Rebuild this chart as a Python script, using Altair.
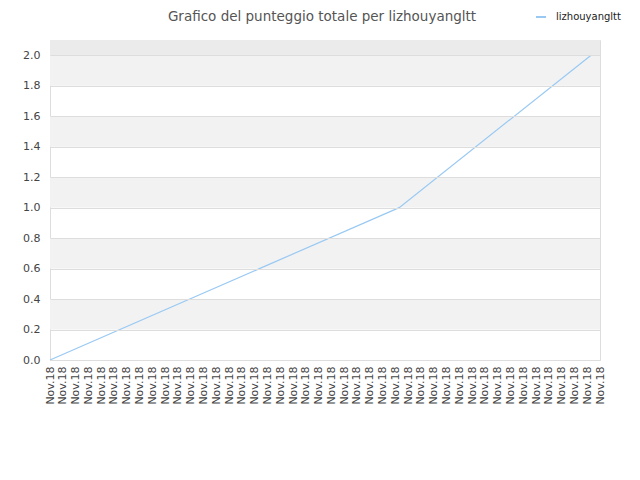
import altair as alt
import pandas as pd

# data
x_pos = [0, 27.3, 42.3]
scores = [0.0, 1.0, 2.0]
series = "lizhouyangltt"
n_ticks = 44
tick_label = "Nov.18"
band_lo = [0.2, 0.6, 1.0, 1.4, 1.8]
band_hi = [0.4, 0.8, 1.2, 1.6, 2.0]
top_lo = [2.0]
top_hi = [2.1]
y_ticks = [0.0, 0.2, 0.4, 0.6, 0.8, 1.0, 1.2, 1.4, 1.6, 1.8, 2.0]

line_df = pd.DataFrame({"x": x_pos, "score": scores, "serie": [series] * len(x_pos)})
band_df = pd.DataFrame({"lo": band_lo, "hi": band_hi})
top_df = pd.DataFrame({"lo": top_lo, "hi": top_hi})

yscale = alt.Scale(domain=[0, 2.1], nice=False, zero=True)
xscale = alt.Scale(domain=[0, n_ticks - 1], nice=False, zero=False)

y_axis = alt.Axis(
    title=None,
    values=y_ticks,
    format=".1f",
    labelFontSize=11,
    labelColor="#444",
    labelPadding=10,
    labelOverlap=False,
    ticks=False,
    domain=False,
    gridColor="#dddddd",
    labelFont="DejaVu Sans",
    zindex=1,
)

bands = alt.Chart(band_df).mark_rect(color="#f2f2f2").encode(
    y=alt.Y("lo:Q", scale=yscale, axis=y_axis), y2="hi:Q"
)
top = alt.Chart(top_df).mark_rect(color="#ebebeb").encode(
    y=alt.Y("lo:Q", scale=yscale, axis=y_axis), y2="hi:Q"
)

line = alt.Chart(line_df).mark_line(strokeWidth=1.2).encode(
    x=alt.X(
        "x:Q",
        scale=xscale,
        axis=alt.Axis(
            title=None,
            values=list(range(n_ticks)),
            labelExpr=f"'{tick_label}'",
            labelAngle=-90,
            labelAlign="right",
            labelBaseline="middle",
            labelFontSize=11,
            labelColor="#444",
            labelPadding=6,
            ticks=False,
            grid=False,
            domain=False,
            labelOverlap=False,
            labelFont="DejaVu Sans",
        ),
    ),
    y=alt.Y("score:Q", scale=yscale, axis=y_axis),
    color=alt.Color(
        "serie:N",
        scale=alt.Scale(range=["#99c9f3"]),
        legend=alt.Legend(
            title=None,
            orient="none",
            legendX=485,
            legendY=-29,
            symbolType="stroke",
            symbolSize=100,
            symbolStrokeWidth=2,
            labelFontSize=10,
            labelColor="#222",
            labelFont="DejaVu Sans",
            labelOffset=9,
        ),
    ),
)

chart = (
    alt.layer(bands, top, line)
    .properties(
        width=550,
        height=320,
        autosize=alt.AutoSizeParams(type="none"),
        padding={"left": 42, "top": 32, "right": 24, "bottom": 100},
        title=alt.TitleParams(
            "Grafico del punteggio totale per lizhouyangltt",
            fontSize=13.5,
            font="DejaVu Sans",
            fontWeight="normal",
            color="#555",
            anchor="middle",
            frame="group",
            offset=20,
            dx=-3,
            dy=32,
        ),
    )
    .configure_view(stroke="#dddddd")
)

chart.save("out.html", embed_options={"renderer": "svg", "actions": False})
